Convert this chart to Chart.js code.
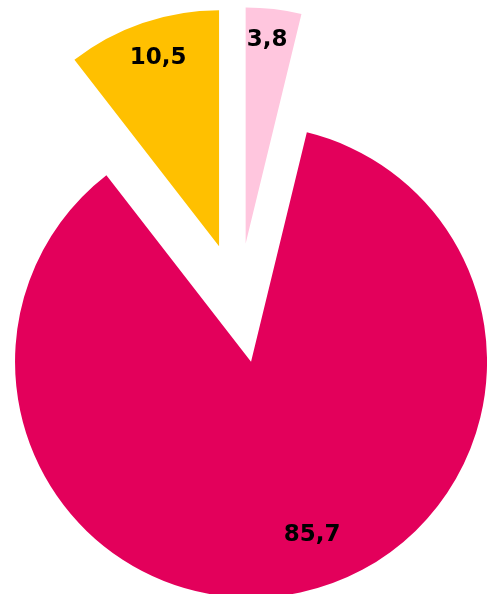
<!DOCTYPE html>
<html>
<head>
<meta charset="utf-8">
<script src="https://cdn.jsdelivr.net/npm/chart.js@4/dist/chart.umd.min.js"></script>
<style>
  html, body { margin: 0; padding: 0; background: #fff; }
  #caja { width: 487px; height: 594px; }
</style>
</head>
<body>
<div id="caja"><canvas id="grafico1"></canvas></div>
<script>
// datos (porcentajes)
const etiquetas = ['A', 'B', 'C'];
const valores = [3.8, 85.7, 10.5];
const textos = ['3,8', '85,7', '10,5'];
const colores = ['#FFC6DE', '#E3005B', '#FFC000'];

const radio = 236;
const separacion = 240; // chart.js desplaza offset/4

// chart.js agranda y estrecha los arcos desplazados; se compensa
// para que todos queden con el mismo radio y su angulo completo
const igualarRadio = {
    id: 'igualarRadio',
    afterDatasetsUpdate(chart) {
        chart.getDatasetMeta(0).data.forEach(arco => {
            const d = (arco.options.offset || 0) / 4;
            const fix = 1 - Math.sin(Math.min(Math.PI, arco.circumference));
            const extra = d * fix;
            arco.outerRadius = radio - extra;
            const recorte = extra / (Math.PI * radio) / 2;
            arco.startAngle -= recorte;
            arco.endAngle += recorte;
        });
    }
};

const rotulos = {
    id: 'rotulos',
    afterDatasetsDraw(chart, args, opts) {
        const ctx = chart.ctx;
        ctx.save();
        ctx.font = opts.font;
        ctx.fillStyle = '#000';
        ctx.textAlign = 'center';
        ctx.textBaseline = 'middle';
        chart.getDatasetMeta(0).data.forEach((arco, i) => {
            const d = (arco.options.offset || 0) / 4;
            const medio = (arco.startAngle + arco.endAngle) / 2;
            const ang = medio + opts.giro[i] * Math.PI / 180;
            const r = radio * opts.fraccion[i];
            const x = arco.x + Math.cos(medio) * d + Math.cos(ang) * r;
            const y = arco.y + Math.sin(medio) * d + Math.sin(ang) * r;
            ctx.fillText(textos[i], x, y);
        });
        ctx.restore();
    }
};

const grafico = new Chart(document.getElementById('grafico1'), {
    type: 'pie',
    data: {
        labels: etiquetas,
        datasets: [{
            data: valores,
            backgroundColor: colores,
            borderWidth: 0,
            offset: separacion,
            clip: false
        }]
    },
    options: {
        responsive: true,
        maintainAspectRatio: false,
        animation: false,
        events: [],
        radius: radio,
        layout: { padding: { left: 0, right: 10, top: 12, bottom: 0 } },
        plugins: {
            legend: { display: false },
            tooltip: { enabled: false },
            rotulos: {
                font: 'bold 23px "DejaVu Sans"',
                fraccion: [0.867, 0.777, 0.84],
                giro: [-0.8, -7.4, 1.0]
            }
        }
    },
    plugins: [igualarRadio, rotulos]
});
</script>
</body>
</html>
